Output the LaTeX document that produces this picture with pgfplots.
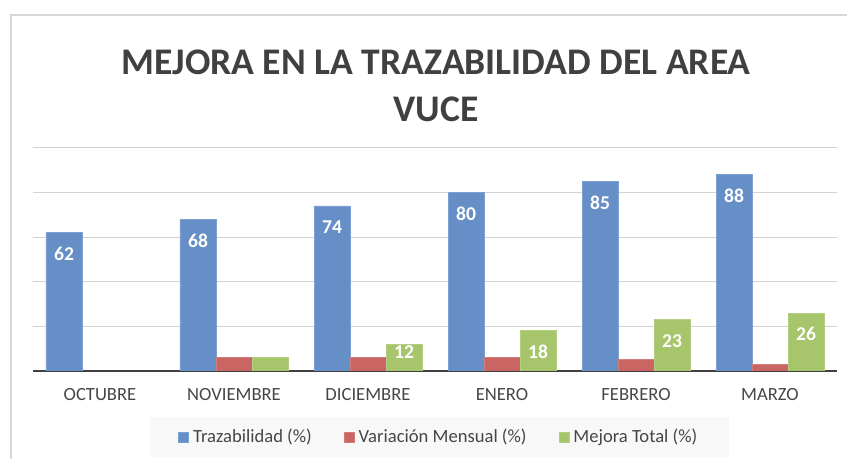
\documentclass[border=0pt]{standalone}
\usepackage{pgfplots}
\pgfplotsset{compat=1.18}
\usepackage{pgfplotstable}
\usepackage{fontspec}
\setmainfont{Carlito}
\definecolor{cblue}{RGB}{101,143,198}
\definecolor{cred}{RGB}{201,102,100}
\definecolor{cgreen}{RGB}{167,197,107}
\definecolor{titlegray}{RGB}{64,64,64}
\definecolor{labelgray}{RGB}{70,70,70}
\definecolor{gridgray}{RGB}{210,210,210}
\definecolor{basegray}{RGB}{64,64,64}
\definecolor{framegray}{RGB}{215,215,215}
\definecolor{legendbg}{RGB}{248,248,248}

\pgfplotstableread{
x y label
0 62 62
1 68 68
2 74 74
3 80 80
4 85 85
5 88 88
}\trazab

\pgfplotstableread{
x y
1 6
2 6
3 6
4 5
5 3
}\variacion

\pgfplotstableread{
x y label
1 6 {}
2 12 12
3 18 18
4 23 23
5 26 26
}\mejora

\begin{document}
\begin{tikzpicture}
\path[use as bounding box] (0,0) rectangle (423.5pt,229.5pt);
\draw[framegray, line width=1pt] (5.25pt,-1pt) -- (5.25pt,222pt) -- (424.5pt,222pt);
\node[font=\fontsize{18.8}{23.5}\selectfont\bfseries, text=titlegray, align=center] at (218pt,186.75pt) {MEJORA EN LA TRAZABILIDAD DEL AREA\\VUCE};
\begin{axis}[
  at={(16.5pt,44pt)}, anchor=south west,
  scale only axis, width=402pt, height=111.5pt,
  xmin=-0.5, xmax=5.5, ymin=0, ymax=100,
  ybar=0pt, bar width=18pt,
  axis line style={draw=none},
  ytick={20,40,60,80,100}, yticklabels={},
  ymajorgrids, major grid style={draw=gridgray, line width=0.5pt},
  major tick length=0pt,
  extra y ticks={0}, extra y tick labels={},
  extra y tick style={grid=major, major grid style={draw=basegray, line width=1.1pt}},
  xtick={0,1,2,3,4,5},
  xticklabels={OCTUBRE,NOVIEMBRE,DICIEMBRE,ENERO,FEBRERO,MARZO},
  x tick label style={font=\fontsize{9.3}{11}\selectfont, text=labelgray, yshift=-5pt},
  legend style={at={(axis description cs:0.506,-0.296)}, anchor=center,
    draw=none, fill=legendbg, legend columns=-1, inner xsep=14pt, inner ysep=4pt,
    font=\fontsize{9.3}{11}\selectfont, text=labelgray,
    /tikz/every even column/.append style={column sep=14pt}},
  mylegend/.style={legend image code/.code={\fill[##1] (0pt,-2.5pt) rectangle (5pt,2.5pt);}},
  vallabel/.style={nodes near coords, point meta=explicit symbolic,
    visualization depends on={y \as \rawy},
    every node near coord/.append style={anchor=center, text=white,
      font=\fontsize{9.8}{11}\selectfont\bfseries,
      yshift={(max(\rawy*1.115-10.5,9.65)-\rawy*1.115)*1pt}}},
]
\addplot[fill=cblue, draw=cblue!85!white, line width=0.4pt, mylegend, vallabel] table[x=x, y=y, meta=label] {\trazab};
\addlegendentry{Trazabilidad (\%)}
\addplot[fill=cred, draw=cred!85!white, line width=0.4pt, mylegend] table[x=x, y=y] {\variacion};
\addlegendentry{Variación Mensual (\%)}
\addplot[fill=cgreen, draw=cgreen!85!white, line width=0.4pt, mylegend, vallabel] table[x=x, y=y, meta=label] {\mejora};
\addlegendentry{Mejora Total (\%)}
\end{axis}
\end{tikzpicture}
\end{document}
